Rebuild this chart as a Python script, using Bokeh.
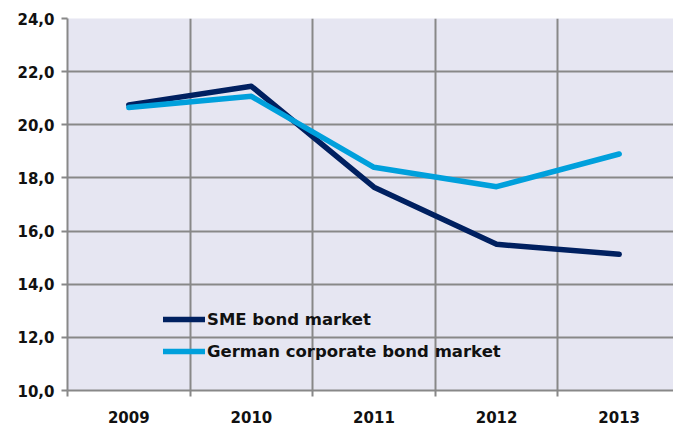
from bokeh.plotting import figure
from bokeh.models import Range1d, FixedTicker, Legend, LegendItem
from bokeh.embed import file_html
from bokeh.resources import INLINE

years = ["2009", "2010", "2011", "2012", "2013"]
sme = [20.75, 21.45, 17.65, 15.5, 15.13]
german = [20.65, 21.07, 18.4, 17.67, 18.9]
y_ticks = [10, 12, 14, 16, 18, 20, 22, 24]
y_labels = ["10,0", "12,0", "14,0", "16,0", "18,0", "20,0", "22,0", "24,0"]

xs = list(range(1, len(years) + 1))
FONT = "DejaVu Sans"

p = figure(width=673, height=425, output_backend="svg", toolbar_location=None,
           x_range=Range1d(0.5, 5.443), y_range=Range1d(10, 24),
           min_border_left=67, min_border_right=0, min_border_top=18, min_border_bottom=32)
p.background_fill_color = "#E6E6F2"
p.border_fill_color = "white"
p.outline_line_color = None

r1 = p.line(xs, sme, line_color="#002060", line_width=5.5, line_cap="round", line_join="round")
r2 = p.line(xs, german, line_color="#00A0DC", line_width=5.5, line_cap="round", line_join="round")

# x axis
p.xaxis.ticker = FixedTicker(ticks=xs, minor_ticks=[0.5, 1.5, 2.5, 3.5, 4.5, 5.5])
p.xaxis.major_label_overrides = {x: y for x, y in zip(xs, years)}
p.xaxis.major_tick_out = 0
p.xaxis.major_tick_in = 0
p.xaxis.minor_tick_out = 6
p.xaxis.minor_tick_in = 0
p.xaxis.minor_tick_line_color = "#888888"
p.xaxis.minor_tick_line_width = 2
p.xaxis.axis_line_color = "#888888"
p.xaxis.axis_line_width = 2
p.xaxis.major_label_text_font = FONT
p.xaxis.major_label_text_font_style = "bold"
p.xaxis.major_label_text_font_size = "15px"
p.xaxis.major_label_text_color = "#111111"
p.xaxis.major_label_standoff = 14

# y axis
p.yaxis.ticker = FixedTicker(ticks=y_ticks)
p.yaxis.major_label_overrides = {t: l for t, l in zip(y_ticks, y_labels)}
p.yaxis.major_tick_out = 6
p.yaxis.major_tick_in = 0
p.yaxis.minor_tick_line_color = None
p.yaxis.major_tick_line_color = "#888888"
p.yaxis.major_tick_line_width = 2
p.yaxis.axis_line_color = "#888888"
p.yaxis.axis_line_width = 2
p.yaxis.major_label_text_font = FONT
p.yaxis.major_label_text_font_style = "bold"
p.yaxis.major_label_text_font_size = "15px"
p.yaxis.major_label_text_color = "#111111"
p.yaxis.major_label_standoff = 7

# grids
p.xgrid.ticker = FixedTicker(ticks=[1.5, 2.5, 3.5, 4.5, 5.5])
p.xgrid.grid_line_color = "#888888"
p.xgrid.grid_line_width = 2
p.ygrid.ticker = FixedTicker(ticks=y_ticks[1:])
p.ygrid.grid_line_color = "#888888"
p.ygrid.grid_line_width = 2

legend = Legend(items=[LegendItem(label="SME bond market", renderers=[r1]),
                       LegendItem(label="German corporate bond market", renderers=[r2])],
                location=(96, 28))
legend.background_fill_alpha = 0
legend.border_line_color = None
legend.margin = 0
legend.padding = 0
legend.spacing = 10
legend.glyph_width = 42
legend.glyph_height = 22
legend.label_height = 22
legend.label_standoff = 2
legend.label_text_font = FONT
legend.label_text_font_style = "bold"
legend.label_text_font_size = "16.5px"
legend.label_text_color = "#111111"
p.add_layout(legend)

open("out.html", "w").write(file_html(p, INLINE))
